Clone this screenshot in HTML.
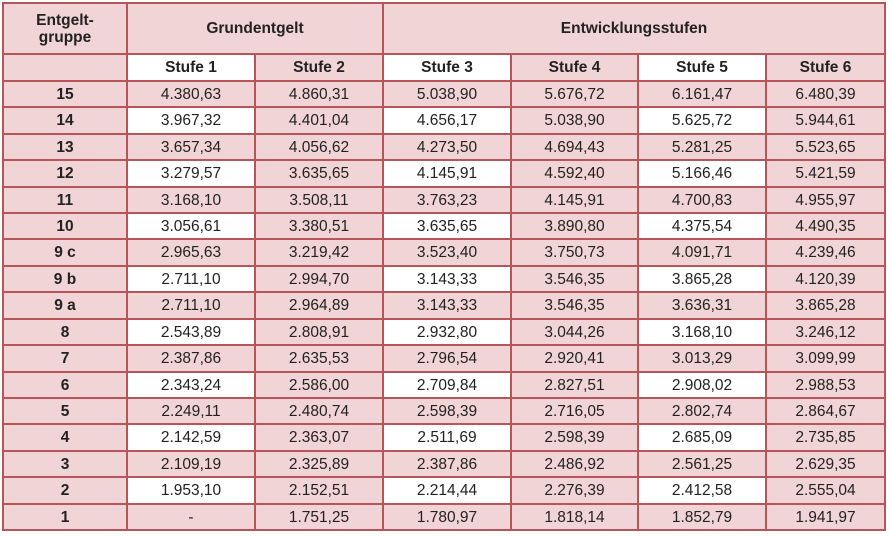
<!DOCTYPE html>
<html><head><meta charset="utf-8">
<style>
html,body{margin:0;padding:0;background:#fff;}
body{width:889px;height:536px;position:relative;overflow:hidden;font-family:"Liberation Sans",sans-serif;color:#222;}
.c{position:absolute;box-sizing:border-box;background:#f1d4d5;display:flex;align-items:center;justify-content:center;font-size:15.5px;text-align:center;line-height:17px;}
.w{background:#fff;}
.b{font-weight:bold;}
.line{position:absolute;background:#b8555a;}
</style></head>
<body>
<div id="t"></div>
<script>
const groups=["15","14","13","12","11","10","9 c","9 b","9 a","8","7","6","5","4","3","2","1"];
const s1=["4.380,63","3.967,32","3.657,34","3.279,57","3.168,10","3.056,61","2.965,63","2.711,10","2.711,10","2.543,89","2.387,86","2.343,24","2.249,11","2.142,59","2.109,19","1.953,10","-"];
const s2=["4.860,31","4.401,04","4.056,62","3.635,65","3.508,11","3.380,51","3.219,42","2.994,70","2.964,89","2.808,91","2.635,53","2.586,00","2.480,74","2.363,07","2.325,89","2.152,51","1.751,25"];
const s3=["5.038,90","4.656,17","4.273,50","4.145,91","3.763,23","3.635,65","3.523,40","3.143,33","3.143,33","2.932,80","2.796,54","2.709,84","2.598,39","2.511,69","2.387,86","2.214,44","1.780,97"];
const s4=["5.676,72","5.038,90","4.694,43","4.592,40","4.145,91","3.890,80","3.750,73","3.546,35","3.546,35","3.044,26","2.920,41","2.827,51","2.716,05","2.598,39","2.486,92","2.276,39","1.818,14"];
const s5=["6.161,47","5.625,72","5.281,25","5.166,46","4.700,83","4.375,54","4.091,71","3.865,28","3.636,31","3.168,10","3.013,29","2.908,02","2.802,74","2.685,09","2.561,25","2.412,58","1.852,79"];
const s6=["6.480,39","5.944,61","5.523,65","5.421,59","4.955,97","4.490,35","4.239,46","4.120,39","3.865,28","3.246,12","3.099,99","2.988,53","2.864,67","2.735,85","2.629,35","2.555,04","1.941,97"];
const cols=[3,127,255,383,511,638,766,885];
const t=document.getElementById('t');
function cell(x0,x1,y0,y1,txt,cls,name){
  const d=document.createElement('div');
  d.className='c '+(cls||'');
  d.style.left=x0+'px';d.style.top=y0+'px';d.style.width=(x1-x0)+'px';d.style.height=(y1-y0)+'px';
  d.innerHTML=txt;
  
  
  t.appendChild(d);
}
function line(x,y,w,h){
  const d=document.createElement('div');
  d.className='line';
  d.style.left=x+'px';d.style.top=y+'px';d.style.width=w+'px';d.style.height=h+'px';
  
  
  t.appendChild(d);
}
const y0=3,y1=54,y2=81,yEnd=530;
const rh=(yEnd-y2)/groups.length;
cell(cols[0],cols[1],y0,y1,'Entgelt-<br>gruppe','b','header-entgeltgruppe');
cell(cols[1],cols[3],y0,y1,'Grundentgelt','b','header-grundentgelt');
cell(cols[3],cols[7],y0,y1,'Entwicklungsstufen','b','header-entwicklungsstufen');
cell(cols[0],cols[1],y1,y2,'','','header-blank');
for(let i=1;i<=6;i++){
  cell(cols[i],cols[i+1],y1,y2,'Stufe '+i,'b'+(i%2===1?' w':''),'header-stufe-'+i);
}
const series=[s1,s2,s3,s4,s5,s6];
groups.forEach((g,r)=>{
  const a=Math.round(y2+r*rh),b=Math.round(y2+(r+1)*rh);
  cell(cols[0],cols[1],a,b,g,'b','group-'+g.replace(' ',''));
  series.forEach((s,i)=>{
    const white=(r%2===1)&&(i%2===0);
    cell(cols[i+1],cols[i+2],a,b,s[r],white?'w':'','value-'+g.replace(' ','')+'-stufe-'+(i+1));
  });
});
// grid lines
[y0,y1,y2].forEach(y=>line(cols[0]-1,y-1,cols[7]-cols[0]+2,2));
for(let r=1;r<=groups.length;r++)line(cols[0]-1,Math.round(y2+r*rh)-1,cols[7]-cols[0]+2,2);
cols.forEach((x,i)=>{
  const top=(i===2||i===4||i===5||i===6)?y1:y0;
  line(x-1,top-1,2,yEnd-top+2);
});
</script>
</body></html>
